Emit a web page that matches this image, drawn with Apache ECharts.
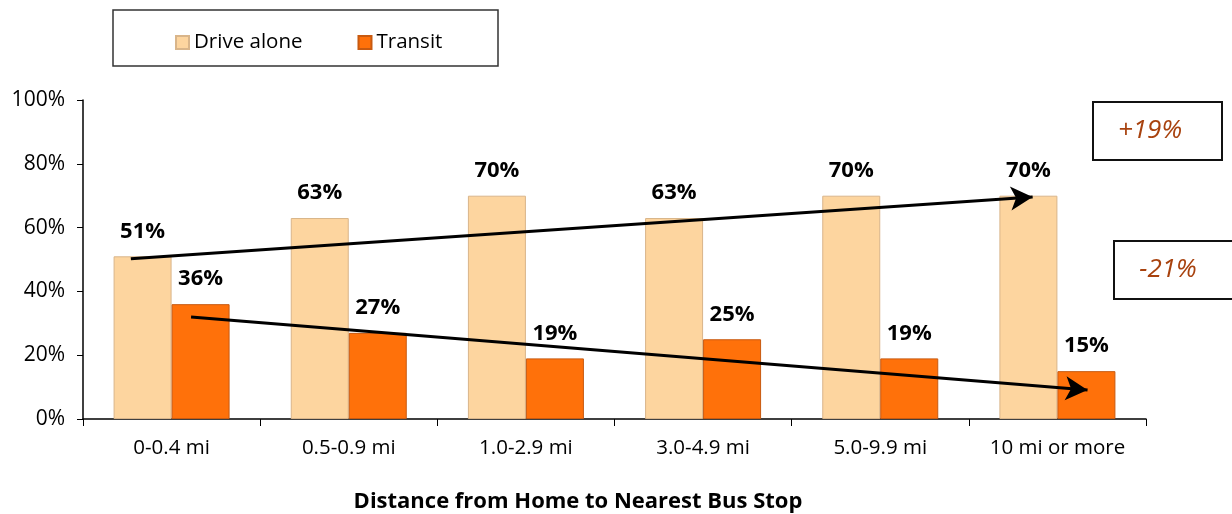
<!DOCTYPE html>
<html>
<head>
<meta charset="utf-8">
<script src="https://cdn.jsdelivr.net/npm/echarts@6/dist/echarts.min.js"></script>
<style>
html, body { margin: 0; padding: 0; background: #fff; }
#chart { width: 1232px; height: 514px; }
</style>
</head>
<body>
<div id="chart"></div>
<script>
// categories and values
var categories = ['0-0.4 mi', '0.5-0.9 mi', '1.0-2.9 mi', '3.0-4.9 mi', '5.0-9.9 mi', '10 mi or more'];
var driveAlone = [51, 63, 70, 63, 70, 70];
var transit = [36, 27, 19, 25, 19, 15];
var yTicks = [0, 20, 40, 60, 80, 100];

// trend arrows, in [category position, percent]
var driveTrend = [[0.27, 50.2], [5.36, 69.6]];
var transitTrend = [[0.61, 32], [5.67, 9.1]];

var FONT = '"Open Sans", "Noto Sans", sans-serif';

var myChart = echarts.init(document.getElementById('chart'));

var labelStyle = {
	show : true,
	position : 'top',
	distance : 14,
	formatter : '{c}%',
	fontFamily : FONT,
	fontWeight : 'bold',
	fontSize : 22,
	color : '#000'
};

function arrow(pts) {
	return {
		type : 'line',
		xAxisIndex : 1,
		data : [],
		silent : true,
		markLine : {
			silent : true,
			symbol : [ 'none', 'arrow' ],
			symbolSize : [ 18, 22 ],
			label : { show : false },
			lineStyle : { color : '#000', width : 3, type : 'solid' },
			data : [ [ { coord : pts[0] }, { coord : pts[1] } ] ]
		}
	};
}

var option = {
	animation : false,
	grid : {
		left : 83,
		right : 86,
		top : 100,
		bottom : 95
	},
	legend : {
		left : 170,
		top : 27,
		icon : 'rect',
		itemWidth : 13,
		itemHeight : 13,
		itemGap : 55,
		data : [ 'Drive alone', 'Transit' ],
		textStyle : { fontFamily : FONT, fontSize : 20.5, color : '#000' }
	},
	xAxis : [ {
		type : 'category',
		data : categories,
		axisLine : { lineStyle : { color : '#000', width : 1.5 } },
		axisTick : { show : true, interval : 0, length : 7, lineStyle : { color : '#000' } },
		axisLabel : { interval : 0, fontFamily : FONT, fontSize : 20.5, color : '#000', margin : 19 }
	}, {
		type : 'value',
		min : 0,
		max : 6,
		show : false
	} ],
	yAxis : {
		type : 'value',
		min : 0,
		max : 100,
		interval : 20,
		axisLine : { show : true, lineStyle : { color : '#000', width : 1.5 } },
		axisTick : { show : true, length : 6, lineStyle : { color : '#000' } },
		splitLine : { show : false },
		axisLabel : {
			fontFamily : FONT,
			fontSize : 21,
			color : '#000',
			margin : 18,
			formatter : function(v) { return yTicks.indexOf(v) >= 0 ? v + '%' : ''; }
		}
	},
	series : [ {
		name : 'Drive alone',
		type : 'bar',
		data : driveAlone,
		barWidth : 58,
		barGap : '0%',
		itemStyle : { color : '#FDD59F', borderColor : '#D9B58A', borderWidth : 1 },
		label : labelStyle
	}, {
		name : 'Transit',
		type : 'bar',
		data : transit,
		barWidth : 58,
		barGap : '0%',
		itemStyle : { color : '#FF710A', borderColor : '#C85A10', borderWidth : 1 },
		label : labelStyle
	}, arrow(driveTrend), arrow(transitTrend) ],
	graphic : [ {
		type : 'rect',
		shape : { x : 113, y : 10, width : 385, height : 56 },
		style : { fill : 'none', stroke : '#333', lineWidth : 1.5 },
		z : -1
	}, {
		type : 'rect',
		shape : { x : 1093, y : 102, width : 129, height : 58 },
		style : { fill : '#fff', stroke : '#111', lineWidth : 2 }
	}, {
		type : 'text',
		x : 1150,
		y : 131,
		style : {
			text : '+19%',
			fill : '#A8420E',
			font : 'italic 26px ' + FONT,
			textAlign : 'center',
			textVerticalAlign : 'middle'
		}
	}, {
		type : 'rect',
		shape : { x : 1114, y : 241, width : 122, height : 58 },
		style : { fill : '#fff', stroke : '#111', lineWidth : 2 }
	}, {
		type : 'text',
		x : 1168,
		y : 270,
		style : {
			text : '-21%',
			fill : '#A8420E',
			font : 'italic 26px ' + FONT,
			textAlign : 'center',
			textVerticalAlign : 'middle'
		}
	}, {
		type : 'text',
		x : 578,
		y : 502,
		style : {
			text : 'Distance from Home to Nearest Bus Stop',
			fill : '#000',
			font : 'bold 22px ' + FONT,
			textAlign : 'center',
			textVerticalAlign : 'middle'
		}
	} ]
};
myChart.setOption(option);
</script>
</body>
</html>
